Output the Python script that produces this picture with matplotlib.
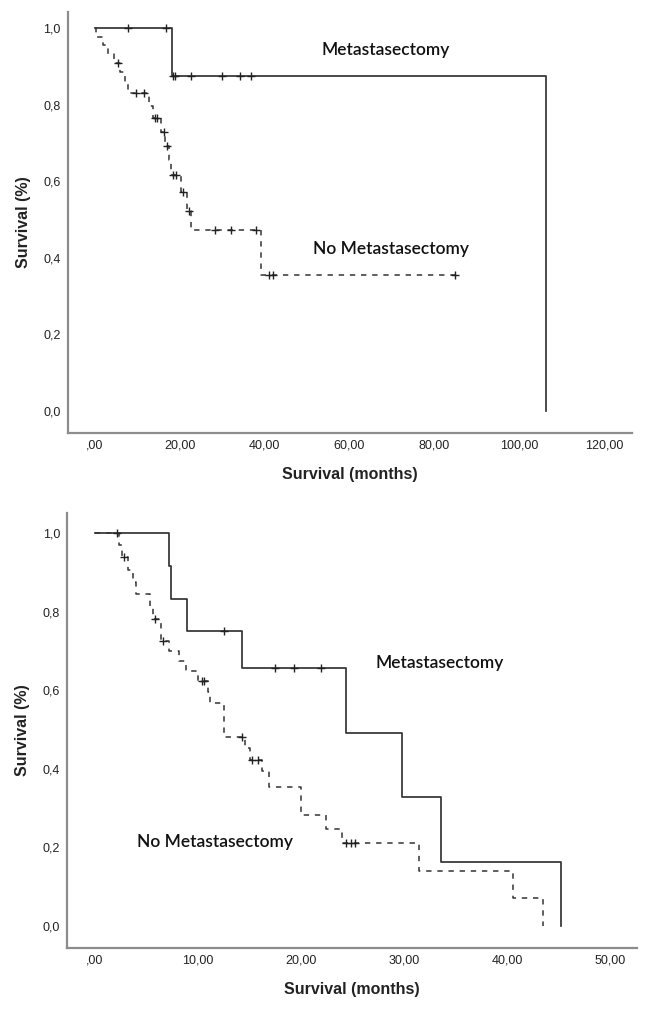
import numpy as np
import matplotlib
matplotlib.use("Agg")
import matplotlib.pyplot as plt

# ---- data: top panel (event times in months, survival after each event) ----
top_met_times = [18.1, 106.3]
top_met_surv = [0.875, 0.0]
top_met_cens = [7.9, 16.7, 18.4, 18.9, 22.6, 30.0, 34.2, 36.8]

top_nomet_times = [0.3, 1.8, 3.0, 4.5, 6.0, 7.0, 7.7, 12.8, 13.6, 15.5, 16.6,
                   17.4, 18.0, 20.3, 21.6, 22.6, 39.2]
top_nomet_surv = [0.977, 0.955, 0.932, 0.909, 0.884, 0.857, 0.83, 0.797, 0.765,
                  0.728, 0.692, 0.654, 0.616, 0.572, 0.522, 0.473, 0.354]
top_nomet_cens = [5.4, 9.7, 11.6, 14.2, 14.6, 16.3, 17.0, 18.4, 19.1, 20.8,
                  22.2, 28.3, 32.1, 38.0, 41.0, 42.0, 84.9]

# ---- data: bottom panel ----
bot_met_times = [7.2, 7.35, 8.9, 14.3, 24.4, 29.8, 33.6, 45.2]
bot_met_surv = [0.917, 0.833, 0.75, 0.656, 0.492, 0.328, 0.164, 0.0]
bot_met_cens = [12.5, 17.5, 19.3, 21.9]

bot_nomet_times = [2.3, 2.6, 3.2, 3.7, 4.0, 5.3, 5.6, 6.4, 7.2, 8.2, 8.8, 10.0,
                   11.0, 11.2, 12.5, 14.6, 15.0, 16.2, 16.9, 20.0, 22.4, 24.0,
                   31.4, 40.6, 43.5]
bot_nomet_surv = [0.969, 0.938, 0.906, 0.875, 0.844, 0.812, 0.781, 0.724, 0.70,
                  0.675, 0.65, 0.623, 0.595, 0.568, 0.482, 0.453, 0.422, 0.395,
                  0.353, 0.282, 0.246, 0.21, 0.141, 0.07, 0.0]
bot_nomet_cens = [2.1, 2.8, 5.8, 6.6, 10.4, 10.6, 14.3, 15.2, 15.8, 24.4, 24.8, 25.2]

top_xticks = [0, 20, 40, 60, 80, 100, 120]
top_xlabels = [",00", "20,00", "40,00", "60,00", "80,00", "100,00", "120,00"]
bot_xticks = [0, 10, 20, 30, 40, 50]
bot_xlabels = [",00", "10,00", "20,00", "30,00", "40,00", "50,00"]
yticks = [0.0, 0.2, 0.4, 0.6, 0.8, 1.0]
ylabels = ["0,0", "0,2", "0,4", "0,6", "0,8", "1,0"]

LINE = "#333333"
tick_font = ["Liberation Sans Narrow", "Liberation Sans", "DejaVu Sans"]
lab_font = ["Liberation Sans Narrow", "Liberation Sans", "DejaVu Sans"]
note_font = ["Lato", "DejaVu Sans"]


def km(ax, times, surv, cens, ls, end=None):
    t = np.r_[0.0, times]
    s = np.r_[1.0, surv]
    if end is not None and end > t[-1]:
        t = np.r_[t, end]
        s = np.r_[s, s[-1]]
    if ls == "solid":
        ax.step(t, s, where="post", color=LINE, lw=1.25)
    else:
        ax.step(t, s, where="post", color=LINE, lw=1.1, dashes=(3.5, 3.8))
    c = np.array(cens)
    idx = np.searchsorted(t, c, side="right") - 1
    ax.plot(c, s[idx], ls="none", marker="+", ms=6, mew=1.0, color="#222222")


def style(ax, xticks, xlabels, xlim, ylim):
    ax.set_xlim(*xlim)
    ax.set_ylim(*ylim)
    for sp in ["top", "right"]:
        ax.spines[sp].set_visible(False)
    for sp in ["left", "bottom"]:
        ax.spines[sp].set_color("#8c8c8c")
        ax.spines[sp].set_linewidth(1.6)
    ax.set_xticks(xticks)
    ax.set_xticklabels(xlabels, family=tick_font, fontsize=9, color="#222222")
    ax.set_yticks(yticks)
    ax.set_yticklabels(ylabels, family=tick_font, fontsize=9, color="#222222")
    ax.tick_params(length=0, pad=5)
    ax.set_xlabel("Survival (months)", family=lab_font, fontsize=11.5,
                  fontweight="bold", color="#222222", labelpad=11)
    ax.set_ylabel("Survival (%)", family=lab_font, fontsize=11.5,
                  fontweight="bold", color="#222222", labelpad=9)


fig = plt.figure(figsize=(6.49, 10.14), dpi=100)

ax1 = fig.add_axes([0.1043, 0.5730, 0.8695, 0.4152])
km(ax1, top_met_times, top_met_surv, top_met_cens, "solid")
km(ax1, top_nomet_times, top_nomet_surv, top_nomet_cens, "dashed", end=max(top_nomet_cens))
style(ax1, top_xticks, top_xlabels, (-6.44, 126.65), (-0.0574, 1.0418))
ax1.text(53.5, 0.943, "Metastasectomy", family=note_font, fontsize=12.5,
         fontweight="semibold", va="center", ha="left", color="#111111")
ax1.text(51.4, 0.423, "No Metastasectomy", family=note_font, fontsize=12.5,
         fontweight="semibold", va="center", ha="left", color="#111111")

ax2 = fig.add_axes([0.1032, 0.0651, 0.8783, 0.4290])
km(ax2, bot_met_times, bot_met_surv, bot_met_cens, "solid")
km(ax2, bot_nomet_times, bot_nomet_surv, bot_nomet_cens, "dashed")
style(ax2, bot_xticks, bot_xlabels, (-2.72, 52.6), (-0.056, 1.051))
ax2.text(27.2, 0.669, "Metastasectomy", family=note_font, fontsize=12.5,
         fontweight="semibold", va="center", ha="left", color="#111111")
ax2.text(19.2, 0.214, "No Metastasectomy", family=note_font, fontsize=12.5,
         fontweight="semibold", va="center", ha="right", color="#111111")

fig.savefig("out.png", dpi=100)
